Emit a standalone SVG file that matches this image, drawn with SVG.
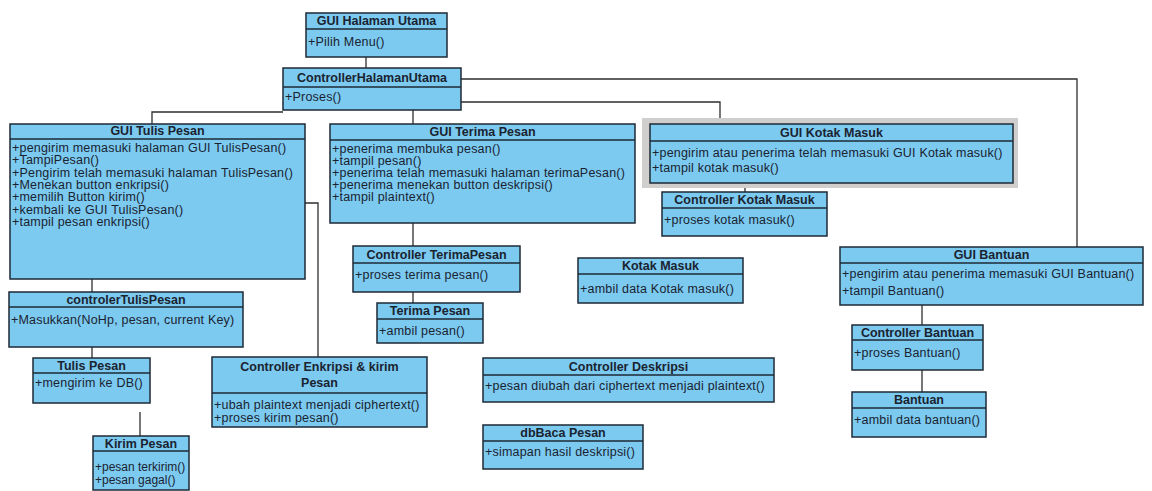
<svg xmlns="http://www.w3.org/2000/svg" width="1152" height="491" viewBox="0 0 1152 491">
<style>
.bx{fill:#7ccaf0;stroke:#1e2a36;stroke-width:1.5}
.sp{stroke:#1e2a36;stroke-width:1.3}
.hd{font-family:"Liberation Sans",Arial,sans-serif;font-weight:bold;font-size:12.5px;fill:#1a2330;text-anchor:middle}
.mt{font-family:"Liberation Sans",Arial,sans-serif;font-size:12.5px;letter-spacing:0.2px;fill:#1a2330}
.ns{letter-spacing:0;font-size:12px}
.cn{fill:none;stroke:#2e2e2e;stroke-width:1.3}
</style>
<rect width="1152" height="491" fill="#ffffff"/>
<g id="connectors">
<path class="cn" d="M366 57V68"/>
<path class="cn" d="M152 124V112H283"/>
<path class="cn" d="M413 110V124"/>
<path class="cn" d="M461 102H720V118"/>
<path class="cn" d="M461 79H1077V247"/>
<path class="cn" d="M92 279V292"/>
<path class="cn" d="M92 347V358"/>
<path class="cn" d="M140 412V436"/>
<path class="cn" d="M305 203H318V357"/>
<path class="cn" d="M413 223V246"/>
<path class="cn" d="M413 292V303"/>
<path class="cn" d="M745 183V192"/>
<path class="cn" d="M922 305V325"/>
<path class="cn" d="M922 370V392"/>
</g>
<g id="gui-halaman-utama">
<rect class="bx" x="306" y="13" width="141" height="44"/>
<line class="sp" x1="306" y1="29" x2="447" y2="29"/>
<text class="hd" x="376.5" y="25">GUI Halaman Utama</text>
<text class="mt" x="308" y="46">+Pilih Menu()</text>
</g>
<g id="controller-halaman-utama">
<rect class="bx" x="283" y="68" width="178" height="42"/>
<line class="sp" x1="283" y1="87" x2="461" y2="87"/>
<text class="hd" x="372" y="82">ControllerHalamanUtama</text>
<text class="mt" x="285" y="101">+Proses()</text>
</g>
<g id="gui-tulis-pesan">
<rect class="bx" x="10" y="124" width="295" height="155"/>
<line class="sp" x1="10" y1="139" x2="305" y2="139"/>
<text class="hd" x="157.5" y="135">GUI Tulis Pesan</text>
<text class="mt" x="12" y="152">+pengirim memasuki halaman GUI TulisPesan()</text>
<text class="mt" x="12" y="164">+TampiPesan()</text>
<text class="mt" x="12" y="177">+Pengirim telah memasuki halaman TulisPesan()</text>
<text class="mt" x="12" y="189">+Menekan button enkripsi()</text>
<text class="mt" x="12" y="201">+memilih Button kirim()</text>
<text class="mt" x="12" y="214">+kembali ke GUI TulisPesan()</text>
<text class="mt" x="12" y="226">+tampil pesan enkripsi()</text>
</g>
<g id="gui-terima-pesan">
<rect class="bx" x="330" y="124" width="305" height="99"/>
<line class="sp" x1="330" y1="140" x2="635" y2="140"/>
<text class="hd" x="482.5" y="136">GUI Terima Pesan</text>
<text class="mt" x="332" y="153">+penerima membuka pesan()</text>
<text class="mt" x="332" y="165">+tampil pesan()</text>
<text class="mt" x="332" y="177">+penerima telah memasuki halaman terimaPesan()</text>
<text class="mt" x="332" y="189">+penerima menekan button deskripsi()</text>
<text class="mt" x="332" y="201">+tampil plaintext()</text>
</g>
<g id="gui-kotak-masuk">
<rect x="642" y="118" width="376" height="70" fill="#d0cfcd"/>
<rect class="bx" x="650" y="124" width="363" height="59"/>
<line class="sp" x1="650" y1="141" x2="1013" y2="141"/>
<text class="hd" x="831.5" y="137">GUI Kotak Masuk</text>
<text class="mt" x="652" y="157">+pengirim atau penerima telah memasuki GUI Kotak masuk()</text>
<text class="mt" x="652" y="172">+tampil kotak masuk()</text>
</g>
<g id="controller-kotak-masuk">
<rect class="bx" x="662" y="192" width="165" height="44"/>
<line class="sp" x1="662" y1="208" x2="827" y2="208"/>
<text class="hd" x="744.5" y="204">Controller Kotak Masuk</text>
<text class="mt" x="664" y="224">+proses kotak masuk()</text>
</g>
<g id="controller-terima-pesan">
<rect class="bx" x="353" y="246" width="167" height="46"/>
<line class="sp" x1="353" y1="263" x2="520" y2="263"/>
<text class="hd" x="436.5" y="259">Controller TerimaPesan</text>
<text class="mt" x="355" y="279">+proses terima pesan()</text>
</g>
<g id="terima-pesan">
<rect class="bx" x="377" y="303" width="106" height="40"/>
<line class="sp" x1="377" y1="319" x2="483" y2="319"/>
<text class="hd" x="430" y="315">Terima Pesan</text>
<text class="mt" x="379" y="335">+ambil pesan()</text>
</g>
<g id="kotak-masuk">
<rect class="bx" x="578" y="258" width="165" height="45"/>
<line class="sp" x1="578" y1="274" x2="743" y2="274"/>
<text class="hd" x="660.5" y="270">Kotak Masuk</text>
<text class="mt" x="580" y="293">+ambil data Kotak masuk()</text>
</g>
<g id="controler-tulis-pesan">
<rect class="bx" x="9" y="292" width="234" height="55"/>
<line class="sp" x1="9" y1="307" x2="243" y2="307"/>
<text class="hd" x="126" y="304">controlerTulisPesan</text>
<text class="mt" x="11" y="324">+Masukkan(NoHp, pesan, current Key)</text>
</g>
<g id="tulis-pesan">
<rect class="bx" x="33" y="358" width="117" height="45"/>
<line class="sp" x1="33" y1="373" x2="150" y2="373"/>
<text class="hd" x="91.5" y="370">Tulis Pesan</text>
<text class="mt" x="35" y="387">+mengirim ke DB()</text>
</g>
<g id="kirim-pesan">
<rect class="bx" x="93" y="436" width="96" height="54"/>
<line class="sp" x1="93" y1="451" x2="189" y2="451"/>
<text class="hd" x="141" y="448">Kirim Pesan</text>
<text class="mt ns" x="95" y="471">+pesan terkirim()</text>
<text class="mt ns" x="95" y="484">+pesan gagal()</text>
</g>
<g id="controller-enkripsi">
<rect class="bx" x="212" y="357" width="215" height="70"/>
<line class="sp" x1="212" y1="393" x2="427" y2="393"/>
<text class="hd" x="319.5" y="371">Controller Enkripsi &amp; kirim</text>
<text class="hd" x="319.5" y="387">Pesan</text>
<text class="mt" x="214" y="409">+ubah plaintext menjadi ciphertext()</text>
<text class="mt" x="214" y="422">+proses kirim pesan()</text>
</g>
<g id="controller-deskripsi">
<rect class="bx" x="483" y="358" width="291" height="44"/>
<line class="sp" x1="483" y1="375" x2="774" y2="375"/>
<text class="hd" x="628.5" y="371">Controller Deskripsi</text>
<text class="mt" x="485" y="390">+pesan diubah dari ciphertext menjadi plaintext()</text>
</g>
<g id="dbbaca-pesan">
<rect class="bx" x="483" y="425" width="160" height="44"/>
<line class="sp" x1="483" y1="441" x2="643" y2="441"/>
<text class="hd" x="563" y="437">dbBaca Pesan</text>
<text class="mt" x="485" y="456">+simapan hasil deskripsi()</text>
</g>
<g id="gui-bantuan">
<rect class="bx" x="840" y="247" width="303" height="58"/>
<line class="sp" x1="840" y1="263" x2="1143" y2="263"/>
<text class="hd" x="991.5" y="259">GUI Bantuan</text>
<text class="mt" x="842" y="278">+pengirim atau penerima memasuki GUI Bantuan()</text>
<text class="mt" x="842" y="295">+tampil Bantuan()</text>
</g>
<g id="controller-bantuan">
<rect class="bx" x="852" y="325" width="131" height="45"/>
<line class="sp" x1="852" y1="340" x2="983" y2="340"/>
<text class="hd" x="917.5" y="337">Controller Bantuan</text>
<text class="mt" x="854" y="357">+proses Bantuan()</text>
</g>
<g id="bantuan">
<rect class="bx" x="852" y="392" width="134" height="45"/>
<line class="sp" x1="852" y1="408" x2="986" y2="408"/>
<text class="hd" x="919" y="404">Bantuan</text>
<text class="mt" x="854" y="424">+ambil data bantuan()</text>
</g>
</svg>
